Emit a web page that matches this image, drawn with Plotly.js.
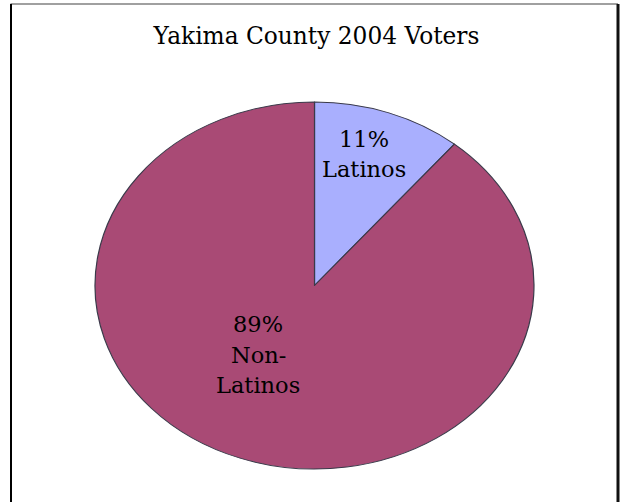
<!DOCTYPE html>
<html>
<head>
<meta charset="utf-8">
<script src="https://cdn.plot.ly/plotly-3.0.1.min.js"></script>
<style>
  html, body { margin: 0; padding: 0; background: #ffffff; }
  #chart { width: 621px; height: 502px; }
</style>
</head>
<body>
<div id="chart"></div>
<script>
// ---- data ----
var title = "Yakima County 2004 Voters";
var labels = ["Latinos", "Non-Latinos"];
var values = [11, 89];
var colors = ["#a9affe", "#a94a75"];

// ---- layout constants ----
var W = 621, H = 502;
var cx = 314.5, cy = 285.5;      // pie centre (px)
var rx = 219.5, ry = 183.5;      // ellipse radii (px)
var serif = "DejaVu Serif";

var total = values.reduce(function (a, b) { return a + b; }, 0);
function pctText(v) { return Math.round(v / total * 100) + "%"; }
function labelLines(i) {
  return [pctText(values[i])].concat(labels[i].replace("-", "-\n").split("\n"));
}

// label block positions (centre x, first line y, line spacing) in px
var labelPos = [
  { x: 364, y: 139, dy: 30 },
  { x: 258, y: 324, dy: 30.5 }
];

var annotations = [];
labels.forEach(function (lab, i) {
  labelLines(i).forEach(function (line, k) {
    annotations.push({
      xref: "paper", yref: "paper",
      x: labelPos[i].x / W,
      y: 1 - (labelPos[i].y + k * labelPos[i].dy) / H,
      xanchor: "center", yanchor: "middle",
      text: line, showarrow: false,
      font: { family: serif, size: 22.5, color: "#000000" }
    });
  });
});

var domY = [1 - (cy + ry) / H, 1 - (cy - ry) / H];
var domX = [(cx - ry - 5) / W, (cx + ry + 5) / W];

var trace = {
  type: "pie",
  labels: labels,
  values: values,
  sort: false,
  direction: "clockwise",
  rotation: 0,
  textinfo: "none",
  hoverinfo: "label+percent",
  marker: { colors: colors, line: { color: "#3a3a4a", width: 1 } },
  domain: { x: domX, y: domY },
  showlegend: false
};

var layout = {
  width: W, height: H,
  margin: { l: 0, r: 0, t: 0, b: 0 },
  paper_bgcolor: "#ffffff",
  font: { family: serif },
  showlegend: false,
  title: {
    text: title,
    font: { family: serif, size: 23.3, color: "#000000" },
    x: 316.5 / W, xanchor: "center", xref: "paper",
    y: 1 - 36 / H, yanchor: "middle", yref: "paper"
  },
  annotations: annotations,
  shapes: [
    { type: "line", xref: "paper", yref: "paper", x0: 10.5 / W, x1: 618 / W, y0: 1 - 4 / H, y1: 1 - 4 / H, line: { color: "#808080", width: 1.5 } },
    { type: "line", xref: "paper", yref: "paper", x0: 11 / W, x1: 11 / W, y0: 1 - 4 / H, y1: -0.05, line: { color: "#000000", width: 2 } },
    { type: "line", xref: "paper", yref: "paper", x0: 618 / W, x1: 618 / W, y0: 1 - 4 / H, y1: -0.05, line: { color: "#111111", width: 3 } }
  ]
};

Plotly.newPlot("chart", [trace], layout, { displayModeBar: false, staticPlot: true }).then(function (gd) {
  // stretch the circular pie horizontally into the ellipse of the reference
  var sx = rx / ry;
  var layer = gd.querySelector(".pielayer");
  if (layer) {
    layer.setAttribute("transform",
      "translate(" + cx + "," + cy + ") scale(" + sx + ",1) translate(" + (-cx) + "," + (-cy) + ")");
  }
});
</script>
</body>
</html>
